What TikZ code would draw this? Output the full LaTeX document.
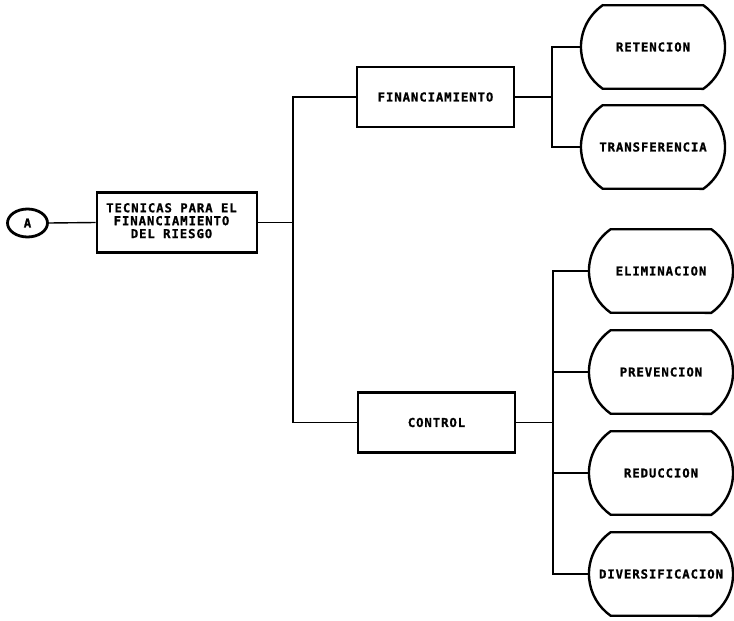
\documentclass[tikz,border=0pt]{standalone}
\usepackage{fontspec}
\newfontfamily\chartfont[LetterSpace=7.5,FakeBold=1]{DejaVu Sans Mono Bold}
\usetikzlibrary{shapes.geometric}

% rounded-side outline drawn around a named node
\newcommand\barrel[1]{%
  \draw[ovalline] ([shift={(-50.3pt,41.8pt)}]#1.center)
    arc[start angle=125,end angle=235,radius=51pt]
    -- ([shift={(50.3pt,-41.8pt)}]#1.center)
    arc[start angle=-55,end angle=55,radius=51pt] -- cycle;}

\tikzset{
  txt/.style={font=\chartfont\fontsize{12.3pt}{12.5pt}\selectfont, align=center, inner sep=0pt},
  boxnode/.style={txt, draw, line width=2.8pt, minimum height=60pt},
  ovalnode/.style={txt, minimum width=144pt, minimum height=84pt},
  ovalline/.style={line width=2.4pt},
  conn/.style={line width=1.4pt},
}

\begin{document}
\begin{tikzpicture}[x=1pt,y=1pt]
\useasboundingbox (0,0) rectangle (734,-621);

\node[txt, ellipse, draw, line width=2.8pt, minimum width=40pt, minimum height=28pt] (a) at (27.5,-223) {A};
\node[boxnode, minimum width=160pt] (main) at (177,-222.5)
  {\hspace*{-11pt}\begin{tabular}{@{}c@{}}TECNICAS PARA EL\\FINANCIAMIENTO\\DEL RIESGO\end{tabular}};
\node[boxnode, minimum width=157pt] (fin) at (435.5,-97) {FINANCIAMIENTO};
\node[boxnode, minimum width=157pt] (ctl) at (436.5,-422.5) {CONTROL};

\node[ovalnode] (ret) at (653,-47) {RETENCION};
\node[ovalnode] (tra) at (653,-147) {TRANSFERENCIA};
\node[ovalnode] (eli) at (661,-271) {ELIMINACION};
\node[ovalnode] (pre) at (661,-372) {PREVENCION};
\node[ovalnode] (red) at (661,-473) {REDUCCION};
\node[ovalnode] (div) at (661,-574) {DIVERSIFICACION};

\foreach \n in {ret,tra,eli,pre,red,div} {\barrel{\n}}

\coordinate (jt) at (293,-222.5);
\coordinate (jf) at (552,-97);
\coordinate (jc) at (553,-422.5);

\draw[conn] (a.east) -- (main.west);
\draw[conn] (main.east) -- (jt);
\draw[conn] (fin.west) -| (jt) |- (ctl.west);

\draw[conn] (fin.east) -- (jf);
\draw[conn] (ret.west) -| (jf) |- (tra.west);

\draw[conn] (ctl.east) -- (jc);
\draw[conn] (eli.west) -| (jc) |- (div.west);
\draw[conn] (pre.west) -- (pre.west -| jc);
\draw[conn] (red.west) -- (red.west -| jc);
\end{tikzpicture}
\end{document}
